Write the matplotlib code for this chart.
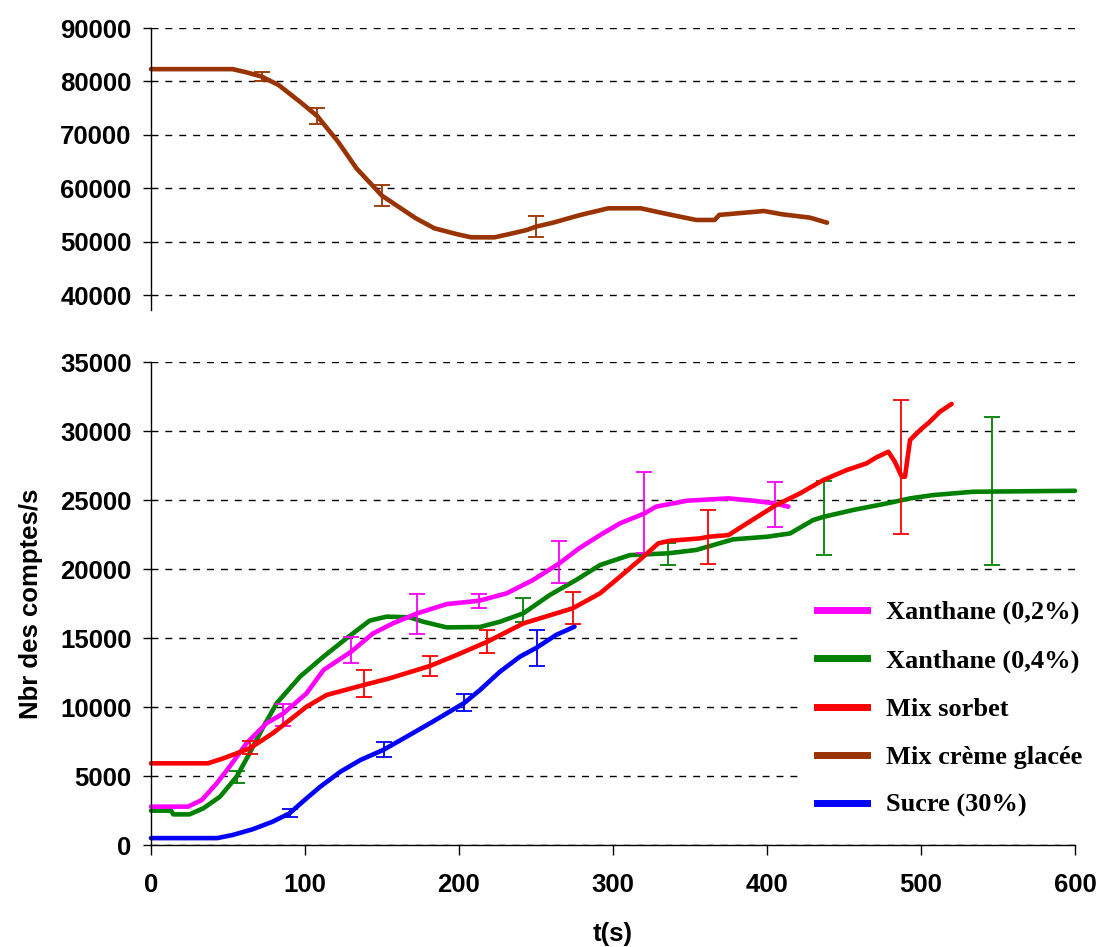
import matplotlib
matplotlib.use("Agg")
import matplotlib.pyplot as plt
from matplotlib.lines import Line2D
import numpy as np

# ---------------- data ----------------
# Mix crème glacée (top panel)
t_creme = [0, 53, 62, 72, 83, 98, 108, 121.5, 133.5, 150, 160, 172, 184, 199, 208, 223, 232, 244,
           250, 261, 279, 297, 318, 333, 354, 366, 369, 381, 398, 410, 428, 439]
v_creme = [82300, 82300, 81700, 80900, 79300, 75900, 73500, 68700, 63700, 58600, 56670, 54360, 52500,
           51370, 50800, 50800, 51370, 52170, 52800, 53540, 55000, 56240, 56240, 55300, 54050, 54050,
           55000, 55300, 55730, 55110, 54480, 53540]
eb_t_creme = [72, 108, 150, 250]
eb_v_creme = [80900, 73500, 58600, 52800]
eb_e_creme = [900, 1560, 1970, 2030]

# Sucre (30%)
t_sucre = [0, 43, 53, 66, 79, 90, 101, 110, 123, 136, 151, 166, 183, 203.5, 213.6, 226.6, 239.6,
           250.4, 263, 275]
v_sucre = [500, 500, 725, 1140, 1690, 2300, 3380, 4230, 5310, 6160, 6900, 7850, 8940, 10300, 11230,
           12560, 13650, 14300, 15220, 15820]
eb_t_sucre = [90, 151, 203.5, 250.4]
eb_v_sucre = [2320, 6920, 10320, 14290]
eb_e_sucre = [270, 520, 600, 1300]

# Mix sorbet
t_sorbet = [0, 37, 47, 64, 79, 86, 101, 114, 138, 155, 181, 198.5, 218.4, 241.8, 273.8, 291.6, 304.5,
            319.7, 329.4, 337, 356.5, 362, 375, 387, 406, 421.4, 436.6, 451.7, 464.7, 471, 478.8,
            483, 487.5, 489.6, 492.9, 499.4, 505.8, 512.3, 519.9]
v_sorbet = [5920, 5920, 6280, 7000, 8090, 8700, 10020, 10870, 11590, 12080, 12970, 13770, 14730,
            16060, 17150, 18240, 19440, 20890, 21860, 22050, 22220, 22340, 22460, 23310, 24640,
            25480, 26450, 27170, 27660, 28090, 28500, 27780, 26690, 26690, 29350, 30070, 30680,
            31400, 31960]
eb_t_sorbet = [64, 138, 181, 218.4, 273.8, 362, 487]
eb_v_sorbet = [7080, 11720, 12990, 14740, 17170, 22310, 27380]
eb_e_sorbet = [490, 970, 720, 850, 1190, 1970, 4870]

# Xanthane (0,2%)
t_x02 = [0, 24, 33, 42.7, 51, 62, 75, 86, 101, 112, 130, 144, 157, 173, 192, 213, 231, 248, 265, 278,
         291.6, 304.5, 320.4, 328, 348, 375, 391, 405, 413.9]
v_x02 = [2780, 2780, 3260, 4470, 5670, 7370, 8820, 9540, 10990, 12680, 14010, 15320, 16060, 16790,
         17460, 17700, 18240, 19200, 20400, 21500, 22460, 23310, 24030, 24520, 24950, 25120, 24950,
         24760, 24520]
eb_t_x02 = [86, 130, 173, 213, 265, 320.4, 405]
eb_v_x02 = [9440, 14130, 16740, 17660, 20500, 24100, 24700]
eb_e_x02 = [790, 920, 1450, 510, 1500, 2950, 1640]

# Xanthane (0,4%)
t_x04 = [0, 13, 14.5, 25, 34, 44.8, 55.6, 64, 73, 81.6, 96.8, 112, 127, 142, 153, 168, 176.8, 192,
         213.6, 226.6, 241.8, 259, 276, 291.6, 311, 336, 354, 378, 400, 415, 430, 437, 456, 478, 493,
         508, 534, 600]
v_x04 = [2490, 2490, 2220, 2220, 2660, 3500, 4950, 6640, 8570, 10270, 12200, 13650, 14980, 16260,
         16550, 16500, 16180, 15770, 15800, 16180, 16790, 18120, 19200, 20290, 21010, 21140, 21380,
         22150, 22340, 22580, 23550, 23790, 24280, 24760, 25120, 25360, 25600, 25670]
eb_t_x04 = [55.6, 241.8, 336, 437, 546]
eb_v_x04 = [4930, 17030, 21080, 23700, 25670]
eb_e_x04 = [460, 850, 790, 2700, 5380]

labels = ["Xanthane (0,2%)", "Xanthane (0,4%)", "Mix sorbet", "Mix crème glacée", "Sucre (30%)"]
x_ticks = [0, 100, 200, 300, 400, 500, 600]
top_ticks = [40000, 50000, 60000, 70000, 80000, 90000]
bot_ticks = [0, 5000, 10000, 15000, 20000, 25000, 30000, 35000]

C_MAG = "#FF00FF"
C_GRN = "#008000"
C_RED = "#FF0000"
C_BRN = "#993300"
C_BLU = "#0000FF"

# ---------------- figure ----------------
plt.rcParams['font.family'] = ['Liberation Sans', 'DejaVu Sans']
plt.rcParams['font.weight'] = 'bold'
FS = 18.5

fig = plt.figure(figsize=(11.02, 9.47), dpi=100)
left, width = 0.137, 0.8385
ax_top = fig.add_axes([left, 0.6727, width, 0.9704 - 0.6727])
ax_bot = fig.add_axes([left, 0.1077, width, 0.6177 - 0.1077])

LW = 3.3
EB_LW = 1.3
CAP = 6

def style(ax, yticks, ylim, show_bottom):
    ax.set_xlim(0, 600)
    ax.set_ylim(*ylim)
    ax.set_yticks(yticks)
    ax.set_yticklabels([str(v) for v in yticks], fontsize=FS, fontweight='bold')
    for s in ['top', 'right']:
        ax.spines[s].set_visible(False)
    ax.spines['left'].set_linewidth(1.0)
    ax.tick_params(axis='y', direction='out', length=6, width=1, pad=8)
    ax.yaxis.grid(True, color='black', linestyle=(0, (5, 5)), linewidth=1.0)
    ax.set_axisbelow(True)
    if show_bottom:
        ax.set_xticks(x_ticks)
        ax.set_xticklabels([str(v) for v in x_ticks], fontsize=FS, fontweight='bold')
        ax.tick_params(axis='x', direction='out', length=7, width=1, pad=13)
        ax.spines['bottom'].set_linewidth(1.0)
    else:
        ax.spines['bottom'].set_visible(False)
        ax.set_xticks([])

style(ax_top, top_ticks, (37200, 90000), False)
style(ax_bot, bot_ticks, (0, 35000), True)

# top panel
ax_top.plot(t_creme, v_creme, color=C_BRN, lw=LW, solid_joinstyle='round', solid_capstyle='round', clip_on=False)
ax_top.errorbar(eb_t_creme, eb_v_creme, yerr=eb_e_creme, fmt='none', ecolor=C_BRN,
                elinewidth=EB_LW, capsize=CAP, capthick=EB_LW)

# bottom panel
series = [
    (t_x04, v_x04, eb_t_x04, eb_v_x04, eb_e_x04, C_GRN),
    (t_x02, v_x02, eb_t_x02, eb_v_x02, eb_e_x02, C_MAG),
    (t_sorbet, v_sorbet, eb_t_sorbet, eb_v_sorbet, eb_e_sorbet, C_RED),
    (t_sucre, v_sucre, eb_t_sucre, eb_v_sucre, eb_e_sucre, C_BLU),
]
for t, v, et, ev, ee, c in series:
    ax_bot.plot(t, v, color=c, lw=LW, solid_joinstyle='round', solid_capstyle='round', clip_on=False)
    ax_bot.errorbar(et, ev, yerr=ee, fmt='none', ecolor=c, elinewidth=EB_LW,
                    capsize=CAP, capthick=EB_LW)

ax_bot.set_xlabel("t(s)", fontsize=FS, fontweight='bold', labelpad=18)
ax_bot.set_ylabel("Nbr des comptes/s", fontsize=FS, fontweight='bold', labelpad=12)

handles = [Line2D([], [], color=c, lw=5) for c in [C_MAG, C_GRN, C_RED, C_BRN, C_BLU]]
leg = ax_bot.legend(handles, labels, loc='upper left', bbox_to_anchor=(0.7067, 0.5335),
                    frameon=True, fancybox=False, facecolor='white', edgecolor='none', framealpha=1.0,
                    handlelength=1.9, handletextpad=0.7, labelspacing=0.93,
                    prop={'family': ['Liberation Serif', 'DejaVu Serif'], 'weight': 'bold', 'size': 19},
                    borderaxespad=0, borderpad=0.5)

fig.savefig("out.png", dpi=100)
